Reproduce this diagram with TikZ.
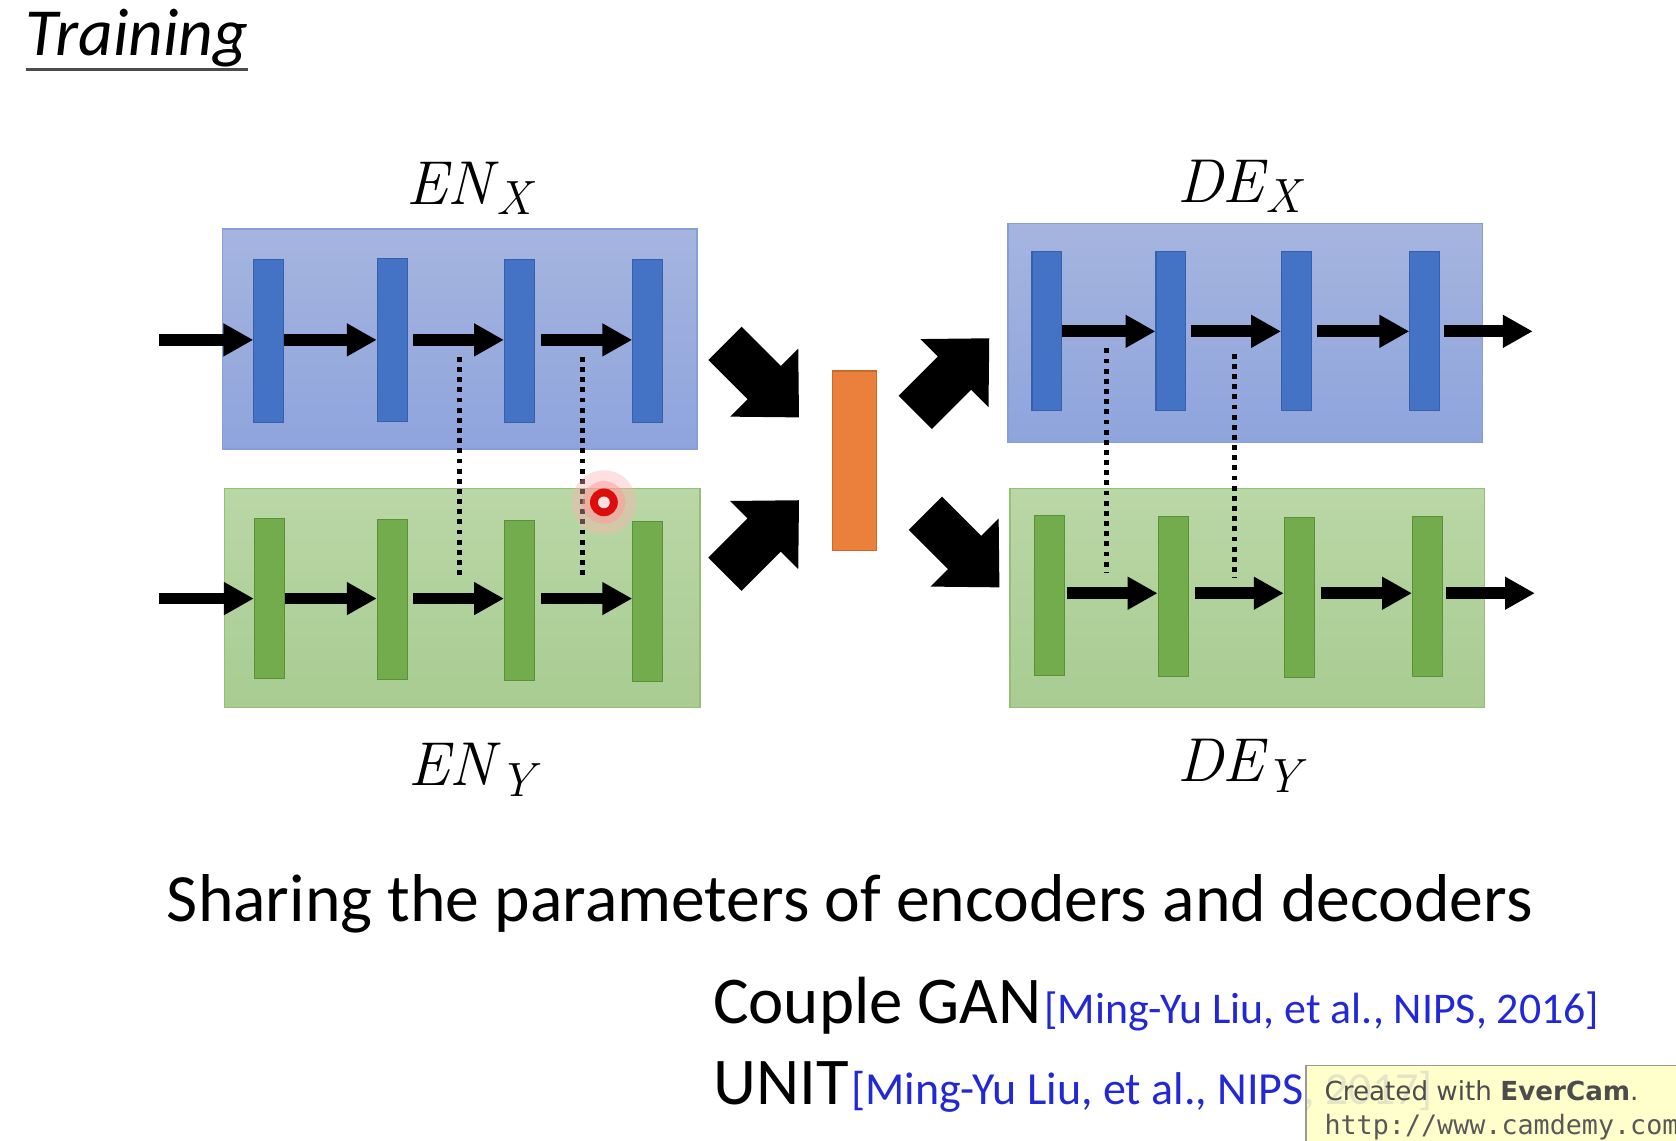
\documentclass[tikz,border=0pt]{standalone}
\usepackage{fontspec}
\newfontfamily\calfont{Carlito}
\newfontfamily\vfont{DejaVu Sans}
\newfontfamily\mfont{DejaVu Sans Mono}
\usetikzlibrary{arrows.meta}
\definecolor{boxblueT}{RGB}{166,181,223}
\definecolor{boxblueB}{RGB}{142,164,220}
\definecolor{boxblueD}{RGB}{135,158,214}
\definecolor{barblue}{RGB}{68,114,196}
\definecolor{barblueD}{RGB}{55,95,170}
\definecolor{boxgreenT}{RGB}{186,215,166}
\definecolor{boxgreenB}{RGB}{168,204,146}
\definecolor{boxgreenD}{RGB}{148,192,118}
\definecolor{bargreen}{RGB}{114,172,76}
\definecolor{bargreenD}{RGB}{90,145,55}
\definecolor{orangebar}{RGB}{234,128,60}
\definecolor{orangeD}{RGB}{205,105,40}
\definecolor{citeblue}{RGB}{35,40,215}
\definecolor{wmyellow}{RGB}{255,255,196}
\newcommand{\sublbl}[2]{\textit{#1}\kern-2pt\raisebox{-10pt}{\fontsize{45}{45}\selectfont\textit{#2}}}
\begin{document}
\begin{tikzpicture}[x=1pt,y=-1pt,
  bluebox/.style={draw=boxblueD, line width=1.5pt, top color=boxblueT, bottom color=boxblueB, inner sep=0pt},
  greenbox/.style={draw=boxgreenD, line width=1.5pt, top color=boxgreenT, bottom color=boxgreenB, inner sep=0pt},
  bbar/.style={draw=barblueD, line width=1pt, fill=barblue, minimum width=28pt, inner sep=0pt},
  gbar/.style={draw=bargreenD, line width=1pt, fill=bargreen, minimum width=28pt, inner sep=0pt},
  flow/.style={line width=11pt, -{Triangle[length=28pt,width=29pt]}},
  share/.style={line width=4.5pt, dash pattern=on 4.5pt off 5pt},
  bigarrow/.style={fill=black},
  lbl/.style={anchor=base west, inner sep=0pt, font=\fontsize{58}{60}\selectfont}
]
\useasboundingbox (0,0) rectangle (1568,1067);
\clip (0,0) rectangle (1568,1067);

% Title
\node[anchor=base west, inner sep=0pt, font=\calfont\itshape\fontsize{63}{66}\selectfont] (title) at (24,52) {Training};
\draw[line width=2.5pt, black!70] (title.base west) ++(0,13) coordinate (ul1) -- ([yshift=-13pt]title.base east);

% Boxes
\node[bluebox, minimum width=444pt, minimum height=206pt] (enx) at (430,317) {};
\node[greenbox, minimum width=445pt, minimum height=205pt] (eny) at (432.5,559.5) {};
\node[bluebox, minimum width=444pt, minimum height=205pt] (dex) at (1165,311.5) {};
\node[greenbox, minimum width=444pt, minimum height=205pt] (dey) at (1167,559.5) {};

% Bars EN_X
\node[bbar, minimum height=152pt] (ex1) at (251.5,319) {};
\node[bbar, minimum height=152pt] (ex2) at (367,318) {};
\node[bbar, minimum height=152pt] (ex3) at (486,319) {};
\node[bbar, minimum height=152pt] (ex4) at (606,319) {};
% Bars EN_Y
\node[gbar, minimum height=150pt] (ey1) at (252,560) {};
\node[gbar, minimum height=150pt] (ey2) at (367,561) {};
\node[gbar, minimum height=150pt] (ey3) at (486,562) {};
\node[gbar, minimum height=150pt] (ey4) at (606,563) {};
% Bars DE_X
\node[bbar, minimum height=149pt] (dx1) at (979.5,309.5) {};
\node[bbar, minimum height=149pt] (dx2) at (1095.5,309.5) {};
\node[bbar, minimum height=149pt] (dx3) at (1213,309.5) {};
\node[bbar, minimum height=149pt] (dx4) at (1333,309.5) {};
% Bars DE_Y
\node[gbar, minimum height=150pt] (dy1) at (981.5,557) {};
\node[gbar, minimum height=150pt] (dy2) at (1097.5,558) {};
\node[gbar, minimum height=150pt] (dy3) at (1215.5,559) {};
\node[gbar, minimum height=150pt] (dy4) at (1335.5,558) {};

% Orange latent code
\node[draw=orangeD, line width=1.5pt, fill=orangebar, minimum width=41pt, minimum height=168pt, inner sep=0pt] (code) at (799.5,431) {};

% Flow arrows EN_X
\coordinate (inx) at (149,318);
\draw[flow] (inx) -- (ex1.west |- inx);
\draw[flow] (ex1.east |- inx) -- (ex2.west |- inx);
\draw[flow] ([xshift=5pt]ex2.east |- inx) -- (ex3.west |- inx);
\draw[flow] ([xshift=6pt]ex3.east |- inx) -- (ex4.west |- inx);
% Flow arrows EN_Y
\coordinate (iny) at (149,560);
\draw[flow] (iny) -- (ey1.west |- iny);
\draw[flow] (ey1.east |- iny) -- (ey2.west |- iny);
\draw[flow] ([xshift=5pt]ey2.east |- iny) -- (ey3.west |- iny);
\draw[flow] ([xshift=6pt]ey3.east |- iny) -- (ey4.west |- iny);
% Flow arrows DE_X
\coordinate (outx) at (1434,310);
\draw[flow] (dx1.east |- outx) -- (dx2.west |- outx);
\draw[flow] ([xshift=4pt]dx2.east |- outx) -- (dx3.west |- outx);
\draw[flow] ([xshift=5pt]dx3.east |- outx) -- (dx4.west |- outx);
\draw[flow] ([xshift=3pt]dx4.east |- outx) -- (outx);
% Flow arrows DE_Y
\coordinate (outy) at (1436,555);
\draw[flow] ([xshift=2pt]dy1.east |- outy) -- (dy2.west |- outy);
\draw[flow] ([xshift=6pt]dy2.east |- outy) -- (dy3.west |- outy);
\draw[flow] ([xshift=6pt]dy3.east |- outy) -- (dy4.west |- outy);
\draw[flow] ([xshift=3pt]dy4.east |- outy) -- (outy);

% Shared-parameter dotted lines
\coordinate (s1a) at (430,334); \coordinate (s1b) at (430,541);
\coordinate (s2a) at (545,334); \coordinate (s2b) at (545,541);
\coordinate (s3a) at (1035,326); \coordinate (s3b) at (1035,536);
\coordinate (s4a) at (1155,331); \coordinate (s4b) at (1155,541);
\draw[share] (s1a) -- (s1b);
\draw[share] (s2a) -- (s2b);
\draw[share] (s3a) -- (s3b);
\draw[share] (s4a) -- (s4b);

% Big block arrows
\def\blockarrow{(-98,-22) -- (-46,-22) -- (-46,-45) -- (0,0) -- (-46,45) -- (-46,22) -- (-98,22) -- cycle}
\begin{scope}[shift={(747.5,390.5)}, rotate=-45]
  \fill[bigarrow] \blockarrow;
\end{scope}
\begin{scope}[shift={(747.5,468)}, rotate=45]
  \fill[bigarrow] \blockarrow;
\end{scope}
\begin{scope}[shift={(925.5,316.5)}, rotate=45]
  \fill[bigarrow] \blockarrow;
\end{scope}
\begin{scope}[shift={(935,549.5)}, rotate=-45]
  \fill[bigarrow] \blockarrow;
\end{scope}

% Labels
\node[lbl] (lenx) at (380,191) {\sublbl{EN}{X}};
\node[lbl] (leny) at (382,735) {\sublbl{EN}{Y}};
\node[lbl] (ldex) at (1101,189) {\sublbl{DE}{X}};
\node[lbl] (ldey) at (1101,731) {\sublbl{DE}{Y}};

% Cursor marker
\fill[red!30, opacity=0.4] (565,470) circle (30);
\fill[red!40, opacity=0.5] (565,470) circle (20);
\fill[red!85!black!95] (565,470) circle (13);
\fill[red!12] (565,470) circle (5.5);

% Caption
\node[anchor=base west, inner sep=0pt, font=\calfont\fontsize{63.3}{66}\selectfont] (caption) at (156,862) {Sharing the parameters of encoders and decoders};

\node[anchor=base west, inner sep=0pt, font=\calfont\fontsize{62.5}{66}\selectfont] (cgan) at (667,958) {Couple GAN};
\node[anchor=base west, inner sep=0pt, font=\calfont\fontsize{41}{44}\selectfont, text=citeblue] (cgancite) at ([xshift=2pt]cgan.base east) {[Ming-Yu Liu, et al., NIPS, 2016]};
\node[anchor=base west, inner sep=0pt, font=\calfont\fontsize{62.5}{66}\selectfont] (unit) at (667,1033) {UNIT};
\node[anchor=base west, inner sep=0pt, font=\calfont\fontsize{43}{46}\selectfont, text=citeblue] (unitcite) at ([xshift=2pt]unit.base east) {[Ming-Yu Liu, et al., NIPS, 2017]};

% Watermark
\fill[wmyellow, opacity=0.88] (1222,997) rectangle (1580,1080);
\draw[black!40, line width=1.5pt] (1222,1080) -- (1222,997) -- (1580,997);
\node[anchor=base west, inner sep=0pt, font=\vfont\fontsize{24.5}{28}\selectfont, text=black!70] (wm1) at (1239,1030) {Created with \textbf{EverCam}.};
\node[anchor=base west, inner sep=0pt, font=\mfont\fontsize{25}{28}\selectfont, text=black!65] (wm2) at (1239,1061) {http://www.camdemy.com};
\end{tikzpicture}
\end{document}
